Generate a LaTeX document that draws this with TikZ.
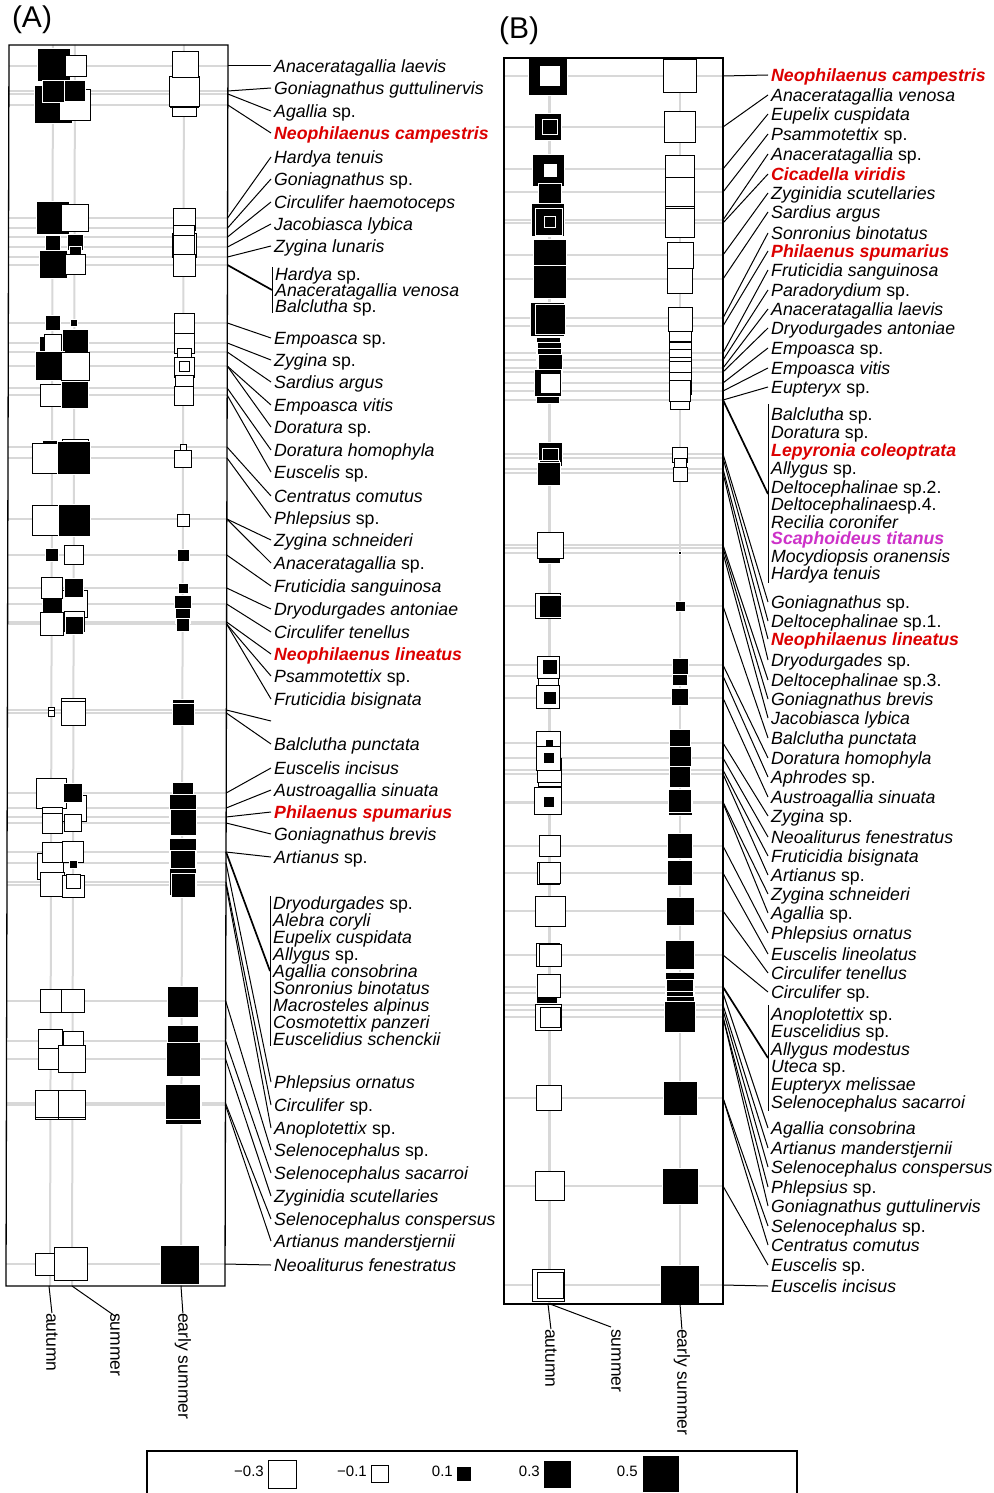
\documentclass[tikz,border=0pt]{standalone}
\usepackage{fontspec}
\setmainfont{Liberation Sans}
\definecolor{hlred}{RGB}{220,0,0}
\definecolor{hlmag}{RGB}{205,50,200}
\definecolor{gridc}{RGB}{216,216,216}
\newcommand{\labfont}{\fontsize{17.7}{20}\selectfont\itshape}
\newcommand{\labfontb}{\fontsize{17.7}{20}\selectfont\bfseries\itshape}
\newcommand{\axfont}{\fontsize{17.5}{20}\selectfont}
\newcommand{\legfont}{\fontsize{15}{18}\selectfont}
\newcommand{\Sp}{\textup{sp.}}
\newcommand{\Pos}[3]{\filldraw[fill=black,draw=white,line width=0.8pt] ({#1-#3/2},{#2-#3/2}) rectangle ({#1+#3/2},{#2+#3/2});}
\newcommand{\Neg}[3]{\filldraw[fill=white,draw=black,line width=1pt] ({#1-#3/2},{#2-#3/2}) rectangle ({#1+#3/2},{#2+#3/2});}
% label with connector, panel A (box edge slightly slanted)
\newcommand{\LA}[5][]{%
  \coordinate (r#2) at ({228-3*(#3-45)/1241},#3);
  \node[lab,#1] (l#2) at (271,#4) {#5};
  \draw[conn] (r#2) -- (l#2.west);}
% label with connector, panel B
\newcommand{\LB}[5][]{%
  \coordinate (r#2) at (723,#3);
  \node[lab,#1] (l#2) at (768,#4) {#5};
  \draw[conn] (r#2) -- (l#2.west);}
% label in a bracketed group
\newcommand{\GL}[5][]{\node[lab,#1] (#2) at (#3,#4) {#5};}
\tikzset{
  gridln/.style={draw=gridc,line width=2pt},
  conn/.style={draw=black,line width=1pt},
  gconn/.style={draw=black,line width=1.7pt},
  frame/.style={draw=black,line width=1.3pt},
  lab/.style={anchor=west,inner xsep=3pt,inner ysep=0pt,text height=12.7pt,text depth=0pt,font=\labfont},
  hl/.style={text=hlred,font=\labfontb},
  hlm/.style={text=hlmag,font=\labfontb},
  axlab/.style={rotate=-90,anchor=mid west,inner sep=0pt,font=\axfont},
  legt/.style={anchor=mid east,inner sep=0pt,font=\legfont},
  panel/.style={inner sep=0pt,font=\fontsize{30}{34}\selectfont}
}
\begin{document}
\begin{tikzpicture}[x=1pt,y=-1pt]
\useasboundingbox (0,0) rectangle (993,1493);
\fill[white] (0,0) rectangle (993,1493);

\node[panel] (pA) at (32,20) {(A)};
\node[panel] (pB) at (519,31) {(B)};

% ---------------- Panel A grid ----------------
\foreach \y in {66,91,94,105,218,228,237,247,257,265,323,343,352,366,388,395,447,458,519,555,588,604,622,624,710,713,793,808,817,823,852,863,882,885,1001,1041,1059,1103,1105,1264}
  \draw[gridln] ({9-3*(\y-45)/1241},\y) -- ({228-3*(\y-45)/1241},\y);
\draw[gridln] (53,45) -- (50,1286);
\draw[gridln] (75,45) -- (72,1286);
\draw[gridln] (184,45) -- (181,1286);

% ---------------- Panel A squares ----------------
\Neg{184}{105}{24}
\Neg{184}{94}{28}
\Neg{184}{92}{30}
\Neg{185}{65}{26}
\Pos{54}{65}{33}
\Neg{76}{66}{21}
\Pos{53}{104}{38}
\Neg{75}{105}{31}
\Pos{53}{91}{22}
\Pos{75}{91}{21}
% cluster 2
\Pos{53}{218}{33}
\Neg{75}{218}{27}
\Pos{53}{243}{15}
\Pos{75}{242}{16}
\Pos{75}{252}{12}
\Pos{53}{264}{28}
\Neg{75}{264}{20}
\Neg{184}{245}{24}
\Neg{184}{219}{22}
\Neg{184}{236}{21}
\Neg{184}{246}{21}
\Neg{184}{265}{22}
% cluster 3
\Pos{53}{323}{15}
\Pos{74}{323}{7}
\Neg{184}{323}{20}
\Pos{49}{346}{20}
\Pos{75}{342}{26}
\Neg{53}{343}{17}
\Neg{184}{343}{20}
\Pos{50}{366}{29}
\Neg{75}{366}{28}
\Neg{184}{355}{14}
\Neg{184}{367}{20}
\Neg{184}{366}{10}
\Neg{184}{384}{18}
\Neg{51}{395}{22}
\Pos{75}{395}{27}
\Neg{184}{396}{19}
% cluster 4
\Pos{52}{450}{20}
\Neg{75}{452}{26}
\Neg{47}{458}{30}
\Pos{74}{458}{33}
\Neg{183}{447}{6}
\Neg{183}{459}{17}
% cluster 5
\Neg{47}{520}{30}
\Pos{74}{520}{32}
\Neg{183}{520}{12}
\Pos{52}{555}{13}
\Neg{74}{555}{19}
\Pos{183}{555}{12}
% cluster 6
\Neg{74}{604}{27}
\Pos{52}{605}{20}
\Neg{52}{588}{21}
\Pos{74}{588}{19}
\Neg{74}{621}{20}
\Neg{52}{624}{23}
\Pos{74}{625}{18}
\Pos{183}{588}{10}
\Pos{183}{604}{17}
\Pos{183}{616}{15}
\Pos{183}{625}{13}
% cluster 7a
\Neg{51}{710}{6}
\Neg{51}{713}{6}
\Neg{73}{710}{24}
\Neg{73}{713}{24}
\Pos{183}{710}{22}
\Pos{183}{714}{22}
% cluster 7
\Neg{73}{808}{26}
\Neg{51}{793}{30}
\Pos{73}{793}{19}
\Neg{52}{817}{20}
\Neg{52}{823}{20}
\Neg{73}{823}{17}
\Neg{50}{866}{26}
\Neg{52}{852}{20}
\Neg{73}{852}{21}
\Pos{73}{864}{8}
\Neg{52}{884}{24}
\Neg{73}{886}{22}
\Neg{73}{881}{14}
\Pos{183}{793}{21}
\Pos{183}{808}{27}
\Pos{183}{822}{26}
\Pos{183}{852}{27}
\Pos{183}{863}{25}
\Pos{183}{882}{27}
\Pos{183}{885}{24}
% cluster 8
\Neg{52}{1001}{23}
\Neg{73}{1001}{23}
\Pos{183}{1002}{31}
\Neg{50}{1041}{24}
\Neg{73}{1041}{20}
\Neg{49}{1059}{21}
\Neg{72}{1059}{27}
\Pos{183}{1041}{31}
\Pos{183}{1059}{34}
\Neg{49}{1106}{27}
\Neg{49}{1104}{27}
\Neg{72}{1106}{27}
\Neg{72}{1104}{27}
\Pos{183}{1106}{36}
\Pos{183}{1102}{35}
\Neg{46}{1264}{22}
\Neg{71}{1264}{33}
\Pos{180}{1265}{39}

\draw[frame] (9,45) -- (228,45) -- (225,1286) -- (6,1286) -- cycle;

% ---------------- Panel A labels ----------------
\LA{a1}{66}{66}{Anaceratagallia laevis}
\LA{a2}{91}{88}{Goniagnathus guttulinervis}
\LA{a3}{94}{111}{Agallia \Sp}
\LA[hl]{a4}{105}{133}{Neophilaenus campestris}
\LA{a5}{218}{157}{Hardya tenuis}
\LA{a6}{228}{179}{Goniagnathus \Sp}
\LA{a7}{237}{202}{Circulifer haemotoceps}
\LA{a8}{247}{224}{Jacobiasca lybica}
\LA{a9}{257}{246}{Zygina lunaris}
\coordinate (rg1) at ({228-3*(265-45)/1241},265);
\coordinate (gA1) at (272,290);
\draw[conn] (272,267) -- (272,313);
\draw[gconn] (rg1) -- (gA1);
\GL{ga1}{272}{274}{Hardya \Sp}
\GL{ga2}{272}{290}{Anaceratagallia venosa}
\GL{ga3}{272}{306}{Balclutha \Sp}
\LA{a11}{323}{338}{Empoasca \Sp}
\LA{a12}{343}{360}{Zygina \Sp}
\LA{a13}{352}{382}{Sardius argus}
\LA{a14}{366}{405}{Empoasca vitis}
\LA{a15}{366}{427}{Doratura \Sp}
\LA{a16}{388}{450}{Doratura homophyla}
\LA{a17}{395}{472}{Euscelis \Sp}
\LA{a18}{447}{496}{Centratus comutus}
\LA{a19}{458}{518}{Phlepsius \Sp}
\LA{a20}{519}{540}{Zygina schneideri}
\LA{a21}{519}{563}{Anaceratagallia \Sp}
\LA{a22}{555}{586}{Fruticidia sanguinosa}
\LA{a23}{588}{609}{Dryodurgades antoniae}
\LA{a24}{604}{632}{Circulifer tenellus}
\LA[hl]{a25}{622}{654}{Neophilaenus lineatus}
\LA{a26}{624}{676}{Psammotettix \Sp}
\LA{a27}{624}{699}{Fruticidia bisignata}
\coordinate (r28) at ({228-3*(710-45)/1241},710);
\coordinate (e28) at (271,721);
\draw[conn] (r28) -- (e28);
\LA{a29}{713}{744}{Balclutha punctata}
\LA{a30}{793}{768}{Euscelis incisus}
\LA{a31}{808}{790}{Austroagallia sinuata}
\LA[hl]{a32}{817}{812}{Philaenus spumarius}
\LA{a33}{823}{834}{Goniagnathus brevis}
\LA{a34}{852}{857}{Artianus \Sp}
\coordinate (rg2) at ({228-3*(852-45)/1241},852);
\coordinate (gA2) at (270,971);
\draw[conn] (270,896) -- (270,1046);
\draw[gconn] (rg2) -- (gA2);
\GL{gb1}{270}{903}{Dryodurgades \Sp}
\GL{gb2}{270}{920}{Alebra coryli}
\GL{gb3}{270}{937}{Eupelix cuspidata}
\GL{gb4}{270}{954}{Allygus \Sp}
\GL{gb5}{270}{971}{Agallia consobrina}
\GL{gb6}{270}{988}{Sonronius binotatus}
\GL{gb7}{270}{1005}{Macrosteles alpinus}
\GL{gb8}{270}{1022}{Cosmotettix panzeri}
\GL{gb9}{270}{1039}{Euscelidius schenckii}
\LA{a36}{863}{1082}{Phlepsius ornatus}
\LA{a37}{882}{1105}{Circulifer \Sp}
\LA{a38}{885}{1128}{Anoplotettix \Sp}
\LA{a39}{1001}{1150}{Selenocephalus \Sp}
\LA{a40}{1041}{1173}{Selenocephalus sacarroi}
\LA{a41}{1059}{1196}{Zyginidia scutellaries}
\LA{a42}{1103}{1219}{Selenocephalus conspersus}
\LA{a43}{1105}{1241}{Artianus manderstjernii}
\LA{a44}{1264}{1265}{Neoaliturus fenestratus}

% ---------------- Panel A axis ----------------
\coordinate (tA1) at (49,1286);
\coordinate (tA2) at (72,1286);
\coordinate (tA3) at (181,1286);
\node[axlab] (xa1) at (49,1313) {autumn};
\node[axlab] (xa2) at (113,1313) {summer};
\node[axlab] (xa3) at (181,1313) {early summer};
\draw[conn] (tA1) -- (xa1.west);
\draw[conn] (tA2) -- ([yshift=-3pt]xa2.west);
\draw[conn] (tA3) -- (xa3.west);

% ---------------- Panel B grid ----------------
\foreach \y in {76,127,169,192,220,223,255,279,318,326,353,360,368,372,383,391,400,454,458,469,473,545,548,553,606,665,676,698,743,758,770,774,802,803,846,873,911,955,987,993,1005,1010,1017,1098,1186,1285}
  \draw[gridln] (504,\y) -- (723,\y);
\draw[gridln,line width=3pt] (549,58) -- (549,1304);
\draw[gridln] (680,58) -- (680,1304);

% ---------------- Panel B squares ----------------
\Pos{548}{76}{39}
\Neg{550}{76}{21}
\Neg{680}{76}{33}
\Pos{548}{127}{27}
\Pos{550}{127}{15}
\Neg{680}{127}{31}
\Pos{548}{170}{32}
\Neg{550}{170}{14}
\Neg{680}{170}{29}
\Pos{550}{195}{23}
\Neg{680}{192}{29}
\Pos{548}{220}{33}
\Pos{549}{222}{27}
\Pos{550}{222}{11}
\Neg{680}{221}{29}
\Neg{680}{223}{29}
\Pos{550}{256}{33}
\Neg{680}{255}{26}
\Pos{550}{282}{33}
\Neg{680}{281}{25}
\Pos{548}{330}{23}
\Neg{680}{330}{22}
\Pos{547}{319}{34}
\Pos{550}{319}{30}
\Neg{680}{319}{24}
\Pos{548}{392}{23}
\Pos{548}{349}{24}
\Pos{549}{354}{24}
\Pos{549}{360}{24}
\Pos{550}{366}{24}
\Pos{548}{383}{27}
\Neg{550}{383}{20}
\Neg{680}{400}{19}
\Neg{680}{353}{22}
\Neg{680}{360}{22}
\Neg{680}{368}{22}
\Neg{680}{372}{22}
\Neg{680}{383}{22}
\Neg{680}{391}{21}
\Pos{550}{454}{24}
\Pos{550}{456}{16}
\Pos{549}{470}{20}
\Pos{549}{474}{23}
\Neg{680}{455}{15}
\Neg{680}{464}{12}
\Neg{680}{474}{14}
\Pos{549}{552}{22}
\Neg{550}{545}{26}
\Pos{680}{553}{3}
\Neg{548}{606}{25}
\Pos{550}{606}{22}
\Pos{680}{606}{10}
\Neg{548}{680}{20}
\Neg{548}{667}{22}
\Pos{550}{667}{15}
\Neg{548}{697}{23}
\Pos{550}{698}{13}
\Pos{680}{678}{15}
\Pos{680}{666}{16}
\Pos{680}{697}{17}
\Neg{548}{743}{24}
\Pos{549}{743}{8}
\Neg{550}{775}{23}
\Neg{549}{770}{24}
\Neg{548}{758}{24}
\Pos{549}{758}{11}
\Neg{548}{801}{27}
\Pos{549}{802}{11}
\Pos{680}{740}{21}
\Pos{680}{757}{22}
\Pos{680}{777}{21}
\Pos{680}{803}{24}
\Pos{680}{801}{23}
\Neg{550}{846}{21}
\Pos{680}{846}{25}
\Neg{548}{873}{22}
\Neg{550}{873}{21}
\Pos{680}{873}{25}
\Neg{550}{911}{30}
\Pos{680}{911}{28}
\Neg{548}{955}{23}
\Neg{550}{955}{22}
\Pos{680}{955}{29}
\Pos{547}{993}{21}
\Neg{549}{986}{23}
\Pos{680}{987}{29}
\Pos{680}{993}{27}
\Neg{548}{1017}{26}
\Neg{550}{1017}{20}
\Pos{680}{1005}{27}
\Pos{680}{1010}{28}
\Pos{680}{1017}{31}
\Neg{549}{1098}{25}
\Pos{680}{1098}{34}
\Neg{550}{1186}{29}
\Pos{680}{1186}{36}
\Neg{548}{1285}{32}
\Neg{550}{1285}{26}
\Pos{680}{1285}{39}

\draw[frame] (504,58) rectangle (723,1304);

% ---------------- Panel B labels ----------------
\LB[hl]{b1}{76}{75}{Neophilaenus campestris}
\LB{b2}{127}{95}{Anaceratagallia venosa}
\LB{b3}{169}{114}{Eupelix cuspidata}
\LB{b4}{192}{134}{Psammotettix \Sp}
\LB{b5}{220}{154}{Anaceratagallia \Sp}
\LB[hl]{b6}{223}{174}{Cicadella viridis}
\LB{b7}{255}{193}{Zyginidia scutellaries}
\LB{b8}{279}{212}{Sardius argus}
\LB{b9}{318}{233}{Sonronius binotatus}
\LB[hl]{b10}{326}{251}{Philaenus spumarius}
\LB{b11}{353}{270}{Fruticidia sanguinosa}
\LB{b12}{360}{290}{Paradorydium \Sp}
\LB{b13}{368}{309}{Anaceratagallia laevis}
\LB{b14}{372}{328}{Dryodurgades antoniae}
\LB{b15}{383}{348}{Empoasca \Sp}
\LB{b16}{391}{368}{Empoasca vitis}
\LB{b17}{400}{387}{Eupteryx \Sp}
\coordinate (rg3) at (723,400);
\coordinate (gB1) at (768,494);
\draw[conn] (768,404) -- (768,583);
\draw[gconn] (rg3) -- (gB1);
\GL{gc1}{768}{414}{Balclutha \Sp}
\GL{gc2}{768}{432}{Doratura \Sp}
\GL[hl]{gc3}{768}{450}{Lepyronia coleoptrata}
\GL{gc4}{768}{468}{Allygus \Sp}
\GL{gc5}{768}{487}{Deltocephalinae \textup{sp.2.}}
\GL{gc6}{768}{504}{Deltocephalinae\textup{sp.4.}}
\GL{gc7}{768}{522}{Recilia coronifer}
\GL[hlm]{gc8}{768}{538}{Scaphoideus titanus}
\GL{gc9}{768}{556}{Mocydiopsis oranensis}
\GL{gc10}{768}{573}{Hardya tenuis}
\LB{b18}{454}{602}{Goniagnathus \Sp}
\LB{b19}{458}{621}{Deltocephalinae \textup{sp.1.}}
\LB[hl]{b20}{469}{639}{Neophilaenus lineatus}
\LB{b21}{473}{660}{Dryodurgades \Sp}
\LB{b22}{545}{680}{Deltocephalinae \textup{sp.3.}}
\LB{b23}{548}{699}{Goniagnathus brevis}
\LB{b24}{553}{718}{Jacobiasca lybica}
\LB{b25}{606}{738}{Balclutha punctata}
\LB{b26}{665}{758}{Doratura homophyla}
\LB{b27}{676}{777}{Aphrodes \Sp}
\LB{b28}{698}{797}{Austroagallia sinuata}
\LB{b29}{743}{816}{Zygina \Sp}
\LB{b30}{758}{837}{Neoaliturus fenestratus}
\LB{b31}{770}{856}{Fruticidia bisignata}
\LB{b32}{774}{875}{Artianus \Sp}
\LB{b33}{802}{894}{Zygina schneideri}
\LB{b34}{803}{913}{Agallia \Sp}
\LB{b35}{846}{933}{Phlepsius ornatus}
\LB{b36}{873}{954}{Euscelis lineolatus}
\LB{b37}{911}{973}{Circulifer tenellus}
\LB{b38}{955}{992}{Circulifer \Sp}
\coordinate (rg4) at (723,987);
\coordinate (gB2) at (768,1058);
\draw[conn] (768,1005) -- (768,1111);
\draw[gconn] (rg4) -- (gB2);
\GL{gd1}{768}{1014}{Anoplotettix \Sp}
\GL{gd2}{768}{1031}{Euscelidius \Sp}
\GL{gd3}{768}{1049}{Allygus modestus}
\GL{gd4}{768}{1066}{Uteca \Sp}
\GL{gd5}{768}{1084}{Eupteryx melissae}
\GL{gd6}{768}{1102}{Selenocephalus sacarroi}
\LB{b39}{993}{1128}{Agallia consobrina}
\LB{b40}{1005}{1148}{Artianus manderstjernii}
\LB{b41}{1010}{1167}{Selenocephalus conspersus}
\LB{b42}{1017}{1187}{Phlepsius \Sp}
\LB{b43}{1017}{1206}{Goniagnathus guttulinervis}
\LB{b44}{1098}{1226}{Selenocephalus \Sp}
\LB{b45}{1098}{1245}{Centratus comutus}
\LB{b46}{1186}{1265}{Euscelis \Sp}
\LB{b47}{1285}{1286}{Euscelis incisus}

% ---------------- Panel B axis ----------------
\coordinate (tB1) at (548,1304);
\coordinate (tB2) at (550,1304);
\coordinate (tB3) at (680,1304);
\node[axlab] (xb1) at (548,1329) {autumn};
\node[axlab] (xb2) at (614,1329) {summer};
\node[axlab] (xb3) at (680,1329) {early summer};
\draw[conn] (tB1) -- (xb1.west);
\draw[conn] (tB2) -- ([xshift=-5pt,yshift=2pt]xb2.west);
\draw[conn] (tB3) -- (xb3.west);

% ---------------- Legend ----------------
\draw[frame,line width=1.1pt] (147,1493) -- (147,1451) -- (797,1451) -- (797,1493);
\node[legt] (lg1) at (264,1474) {−0.3};
\Neg{282}{1474.5}{28}
\node[legt] (lg2) at (367,1474) {−0.1};
\Neg{379.5}{1474}{17}
\node[legt] (lg3) at (453,1474) {0.1};
\Pos{464}{1474}{15}
\node[legt] (lg4) at (540,1474) {0.3};
\Pos{557.5}{1474.5}{28}
\node[legt] (lg5) at (638,1474) {0.5};
\Pos{661}{1474}{37}
\end{tikzpicture}
\end{document}
